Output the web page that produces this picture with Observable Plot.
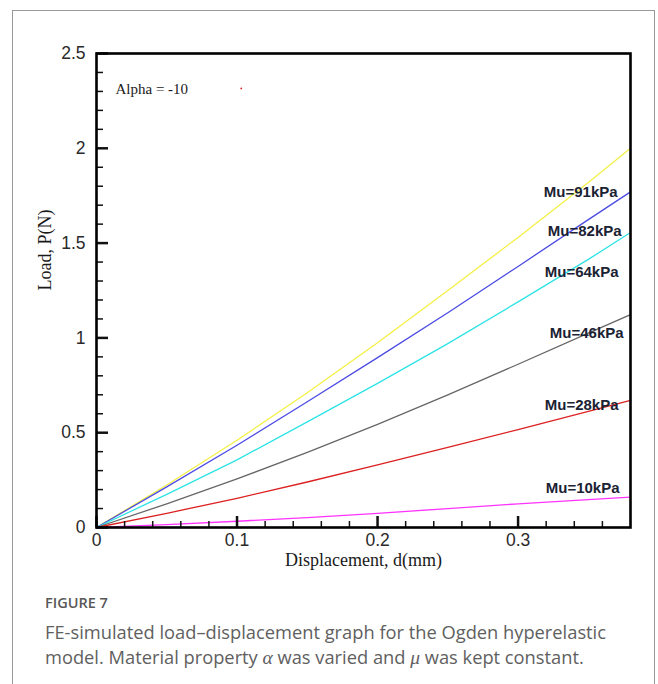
<!DOCTYPE html>
<html><head><meta charset="utf-8">
<script src="https://cdn.jsdelivr.net/npm/d3@7"></script>
<script src="https://cdn.jsdelivr.net/npm/@observablehq/plot@0.6"></script>
<style>
html,body{margin:0;padding:0;background:#fff;}
body{width:658px;height:684px;position:relative;overflow:hidden;}
#box{position:absolute;left:12px;top:10px;width:641px;height:700px;border:1px solid #999;border-bottom:none;z-index:5;pointer-events:none;}
#chart{position:absolute;left:0;top:0;z-index:1;}
#fig{position:absolute;left:45px;top:594px;font-family:"Open Sans";font-weight:600;font-size:14.5px;color:#585858;line-height:18px;white-space:nowrap;}
#cap{position:absolute;left:45px;top:619px;font-family:"Open Sans";font-size:18.3px;line-height:25px;color:#606060;white-space:nowrap;}
#cap i{font-family:"Liberation Serif";font-size:19.5px;}
</style></head><body>
<div id="chart"></div>
<div id="box"></div>
<div id="fig">FIGURE 7</div>
<div id="cap">FE-simulated load–displacement graph for the Ogden hyperelastic<br>model. Material property <i>α</i> was varied and <i>μ</i> was kept constant.</div>
<script>
// Data
const displacement = [0, 0.05, 0.1, 0.15, 0.2, 0.25, 0.3, 0.35, 0.38];
const mu91 = [0, 0.224, 0.46, 0.711, 0.974, 1.25, 1.53, 1.82, 2.0];
const mu82 = [0, 0.214, 0.434, 0.663, 0.896, 1.133, 1.377, 1.624, 1.77];
const mu64 = [0, 0.175, 0.357, 0.557, 0.76, 0.97, 1.19, 1.414, 1.556];
const mu46 = [0, 0.125, 0.256, 0.396, 0.544, 0.70, 0.861, 1.025, 1.123];
const mu28 = [0, 0.075, 0.154, 0.24, 0.33, 0.423, 0.516, 0.613, 0.67];
const mu10 = [0, 0.015, 0.033, 0.052, 0.075, 0.10, 0.125, 0.147, 0.16];
const seriesNames = ["Mu=91kPa", "Mu=82kPa", "Mu=64kPa", "Mu=46kPa", "Mu=28kPa", "Mu=10kPa"];
const seriesValues = [mu91, mu82, mu64, mu46, mu28, mu10];
const seriesColors = ["#f4f044", "#4b4be4", "#2ee3e6", "#666666", "#dd2020", "#ff33ff"];
// label anchors (data units)
const labelX = [0.3708, 0.3737, 0.3715, 0.3751, 0.3715, 0.3722];
const labelY = [1.769, 1.564, 1.346, 1.026, 0.644, 0.206];
// ticks
const xMajor = [0, 0.1, 0.2, 0.3];
const xMinor = [0.02, 0.04, 0.06, 0.08, 0.12, 0.14, 0.16, 0.18, 0.22, 0.24, 0.26, 0.28, 0.32, 0.34, 0.36];
const yMajor = [0, 0.5, 1, 1.5, 2, 2.5];
const yMinor = [0.1, 0.2, 0.3, 0.4, 0.6, 0.7, 0.8, 0.9, 1.1, 1.2, 1.3, 1.4, 1.6, 1.7, 1.8, 1.9, 2.1, 2.2, 2.3, 2.4];
const annotation = "Alpha = -10";
const strayX = [0.103];
const strayY = [2.316];
const xTitle = "Displacement, d(mm)";
const yTitle = "Load, P(N)";

const rows = [];
seriesNames.forEach((name, i) => {
  displacement.forEach((d, j) => rows.push({series: name, d, p: seriesValues[i][j]}));
});
const labels = seriesNames.map((name, i) => ({name, x: labelX[i], y: labelY[i]}));

const W = 658, H = 580, mT = 53, mB = 53, mL = 96, mR = 28;
const iw = W - mL - mR, ih = H - mT - mB;

const chart = Plot.plot({
  width: W, height: H,
  marginTop: mT, marginBottom: mB, marginLeft: mL, marginRight: mR,
  style: {background: "transparent", color: "#2a2a2a", overflow: "visible"},
  x: {domain: [0, 0.38]},
  y: {domain: [0, 2.5]},
  color: {domain: seriesNames, range: seriesColors},
  marks: [
    Plot.line(rows, {x: "d", y: "p", z: "series", stroke: "series", strokeWidth: 1.3}),
    Plot.tickX(xMinor, {x: d => d, insetTop: ih - 6, stroke: "#111", strokeWidth: 1.5}),
    Plot.tickX(xMajor, {x: d => d, insetTop: ih - 11, stroke: "#111", strokeWidth: 2.5}),
    Plot.tickY(yMinor, {y: d => d, insetRight: iw - 7, stroke: "#111", strokeWidth: 1.5}),
    Plot.tickY(yMajor, {y: d => d, insetRight: iw - 12, stroke: "#111", strokeWidth: 2.5}),
    Plot.frame({stroke: "#000", strokeWidth: 2.6}),
    Plot.axisX({ticks: xMajor, tickSize: 0, tickPadding: 6, fontSize: 17.5, fontFamily: "Liberation Sans", tickFormat: d => String(d), label: null}),
    Plot.axisY({ticks: yMajor, tickSize: 0, tickPadding: 11, fontSize: 17.5, fontFamily: "Liberation Sans", tickFormat: d => String(d), label: null}),
    Plot.text(labels, {x: "x", y: "y", text: "name", textAnchor: "end", fontWeight: "bold", fontSize: 15, fontFamily: "Liberation Sans", fill: "#1b2233"}),
    Plot.text([annotation], {frameAnchor: "top-left", dx: 19, dy: 30, textAnchor: "start", fontFamily: "Liberation Serif", fontSize: 15, fill: "#1a1a1a"}),
    Plot.dot(strayX, {x: d => d, y: (d, i) => strayY[i], r: 0.9, fill: "#e02020", stroke: null}),
    Plot.text([xTitle], {frameAnchor: "bottom", dy: 38, fontFamily: "Liberation Serif", fontSize: 18, fill: "#1a1a1a"}),
    Plot.text([yTitle], {frameAnchor: "left", dx: -51, rotate: -90, fontFamily: "Liberation Serif", fontSize: 18, fill: "#1a1a1a"})
  ]
});
document.getElementById("chart").appendChild(chart);
</script>
</body></html>
